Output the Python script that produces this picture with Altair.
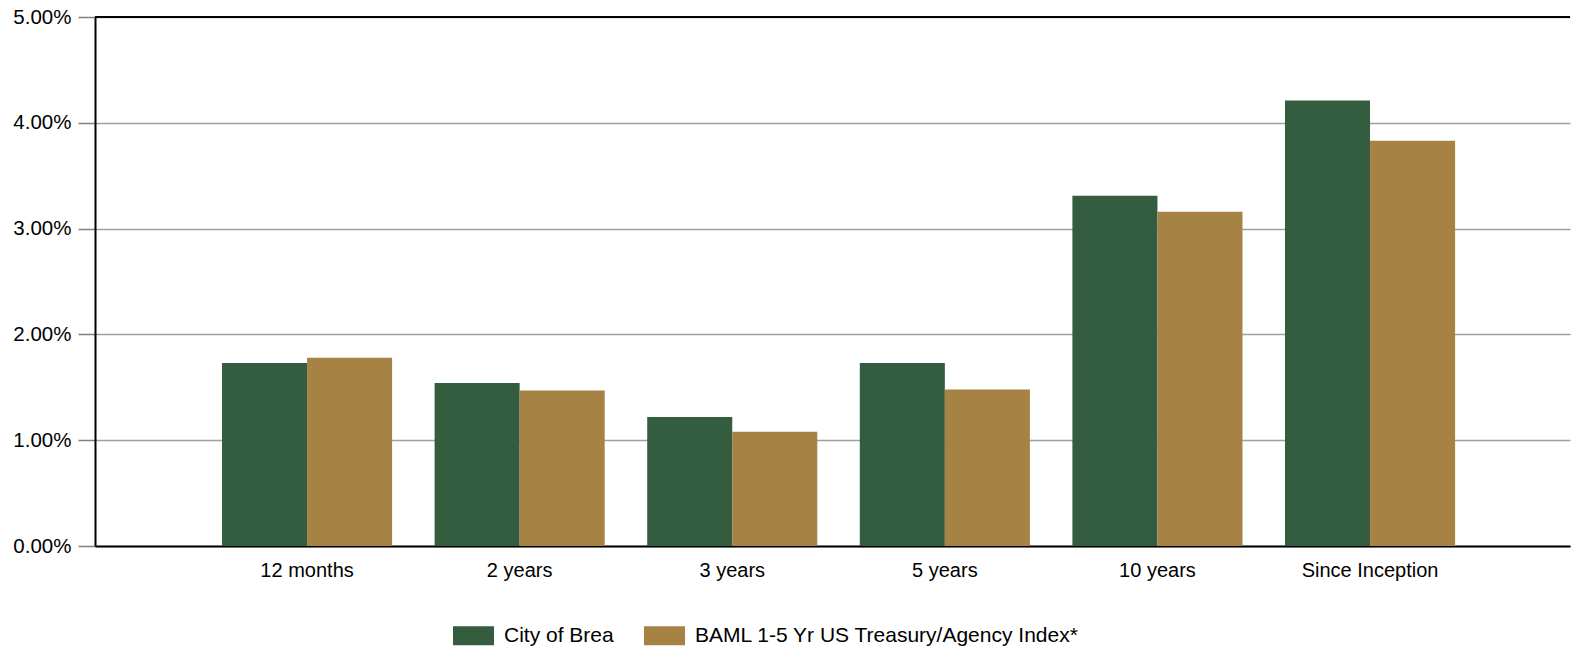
import altair as alt
import pandas as pd

periods = ["12 months", "2 years", "3 years", "5 years", "10 years", "Since Inception"]
series_names = ["City of Brea", "BAML 1-5 Yr US Treasury/Agency Index*"]
city_of_brea = [1.73, 1.54, 1.22, 1.73, 3.31, 4.21]
baml_index = [1.78, 1.47, 1.08, 1.48, 3.16, 3.83]
colors = ["#335D3E", "#A68244"]
y_ticks = [0.0, 0.01, 0.02, 0.03, 0.04, 0.05]

rows = []
for i, p in enumerate(periods):
    rows.append({"period": p, "series": series_names[0], "ret": city_of_brea[i] / 100})
    rows.append({"period": p, "series": series_names[1], "ret": baml_index[i] / 100})
df = pd.DataFrame(rows)

FONT = "Liberation Sans"

bars = alt.Chart(df).mark_bar(stroke=None).encode(
    x=alt.X(
        "period:N",
        sort=periods,
        title=None,
        scale=alt.Scale(paddingInner=0.2, paddingOuter=0.569, align=0.525),
        axis=alt.Axis(
            labelAngle=0,
            labelFont=FONT,
            labelFontSize=20,
            labelColor="#000000",
            labelPadding=14,
            ticks=False,
            domainColor="#000000",
            domainWidth=2,
            grid=False,
        ),
    ),
    xOffset=alt.XOffset(
        "series:N",
        sort=series_names,
        scale=alt.Scale(paddingInner=0, paddingOuter=0),
    ),
    y=alt.Y(
        "ret:Q",
        title=None,
        scale=alt.Scale(domain=[0, 0.05], nice=False),
        axis=alt.Axis(
            values=y_ticks,
            format=".2%",
            labelFont=FONT,
            labelFontSize=20.5,
            labelColor="#000000",
            labelPadding=7,
            tickSize=17,
            tickColor="#808080",
            tickWidth=1.5,
            domainColor="#000000",
            domainWidth=2,
            gridColor="#A0A0A0",
            gridWidth=1.5,
        ),
    ),
    color=alt.Color(
        "series:N",
        sort=series_names,
        scale=alt.Scale(domain=series_names, range=colors),
        legend=alt.Legend(
            title=None,
            orient="none",
            direction="horizontal",
            legendX=358,
            legendY=598,
            symbolType="M-1,-0.463H1V0.463H-1Z",
            symbolSize=1681,
            symbolStrokeWidth=0,
            symbolOpacity=1,
            labelFont=FONT,
            labelFontSize=21,
            labelColor="#000000",
            labelOffset=10,
            columnPadding=30,
            labelLimit=600,
        ),
    ),
)

top_line = alt.Chart(pd.DataFrame({"v": [0.05]})).mark_rule(
    color="#000000", strokeWidth=2
).encode(y="v:Q")

chart = (
    alt.layer(bars, top_line)
    .properties(
        width=1475,
        height=529,
        autosize=alt.AutoSizeParams(type="none"),
        padding={"left": 95, "top": 17, "right": 2, "bottom": 103},
        background="#FFFFFF",
    )
    .configure_view(strokeWidth=0)
)

chart.save("out.html", embed_options={"renderer": "svg", "actions": False})
